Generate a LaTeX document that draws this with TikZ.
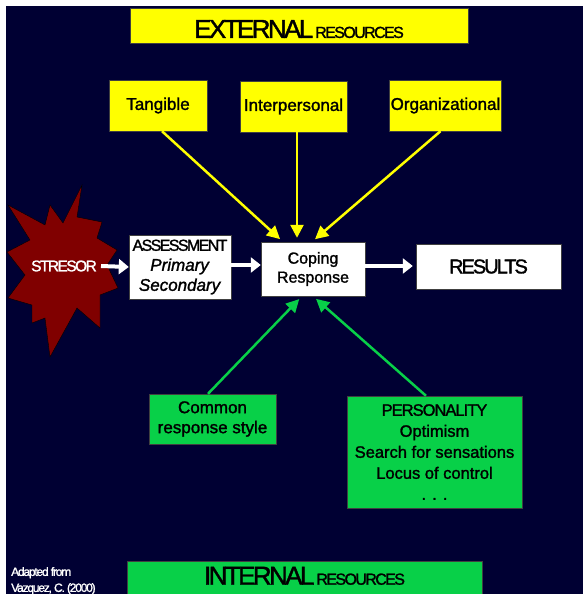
\documentclass[tikz,border=0pt]{standalone}
\usepackage{fontspec}
\setmainfont{Liberation Sans}[FakeBold=1.5]
\newfontfamily\tightfont{Liberation Sans}[LetterSpace=-10,FakeBold=1.5]
\newfontfamily\snugfont{Liberation Sans}[LetterSpace=-6,FakeBold=1.5]
\usetikzlibrary{arrows.meta}
\definecolor{navy}{RGB}{0,0,51}
\definecolor{ylw}{RGB}{255,255,0}
\definecolor{grn}{RGB}{8,208,72}
\definecolor{stressred}{RGB}{128,0,0}

\begin{document}
\begin{tikzpicture}[x=1pt,y=-1pt,
    box/.style={draw=black!75, thin, inner sep=1pt, align=center, font=\fontsize{17}{20}\selectfont},
    ybox/.style={box, fill=ylw},
    gbox/.style={box, fill=grn},
    wbox/.style={box, fill=white},
    yarrow/.style={draw=ylw, line width=2.5pt, shorten >=4pt, -{Triangle[length=13pt,width=13pt]}},
    garrow/.style={draw=grn, line width=2.5pt, shorten >=4pt, -{Triangle[length=13pt,width=13pt]}},
    warrow/.style={draw=white, line width=4pt, -{Triangle[length=10pt,width=15pt]}}]

  % background
  \useasboundingbox (0,0) rectangle (583,594);
  \fill[white] (0,0) rectangle (583,594);
  \fill[navy] (6,6) rectangle (583,594);

  % external resources
  \node[ybox, minimum width=338pt, minimum height=35pt, text height=25pt] (ext) at (299,25.5)
    {{\tightfont\fontsize{26}{26}\selectfont EXTERNAL}\hspace{2pt}{\tightfont\fontsize{16}{16}\selectfont RESOURCES}};
  \node[ybox, minimum width=98pt, minimum height=51pt] (tang) at (158,105.5) {Tangible};
  \node[ybox, minimum width=107pt, minimum height=51pt] (inter) at (293.5,106.5) {Interpersonal};
  \node[ybox, minimum width=109pt, minimum height=51pt] (org) at (445.5,105.5) {Organizational};

  % stressor
  \filldraw[fill=stressred, draw=black, thin] (82,185) -- (77,217) -- (102,222) -- (97,238)
    -- (117,250) -- (107,265) -- (118,288) -- (100,295) -- (100,328) -- (77,308)
    -- (50,357) -- (45,318) -- (32,323) -- (32,305) -- (8,298) -- (25,275)
    -- (7,252) -- (30,240) -- (8,205) -- (45,225) -- (50,205) -- (63,223) -- cycle;
  \node[text=white, inner sep=4pt, font=\tightfont\fontsize{15.5}{15.5}\selectfont] (stresor) at (64,266) {STRESOR};

  % main chain
  \node[wbox, minimum width=102pt, minimum height=64pt, font=\fontsize{17}{20}\selectfont] (assess) at (180,267)
    {{\tightfont\fontsize{16}{20}\selectfont ASSESSMENT}\\\textit{Primary}\\\textit{Secondary}};
  \node[wbox, minimum width=104pt, minimum height=54pt, font=\fontsize{16}{19}\selectfont] (coping) at (313,269)
    {Coping\\Response};
  \node[wbox, minimum width=145pt, minimum height=45pt, font=\tightfont\fontsize{20}{20}\selectfont] (results) at (488.5,266.5)
    {RESULTS};

  \draw[warrow] (stresor.east) -- (assess.west);
  \draw[warrow] (assess.east |- 0,265) -- (coping.west |- 0,265);
  \draw[warrow] (coping.east |- 0,266) -- ([xshift=-3pt]results.west |- 0,266);

  \draw[yarrow] ([xshift=4pt]tang.south) -- ([xshift=-30pt]coping.north);
  \draw[yarrow] ([xshift=3.5pt]inter.south) -- ([xshift=-16pt]coping.north);
  \draw[yarrow] ([xshift=-5pt]org.south) -- ([xshift=-1pt]coping.north);

  % internal resources
  \node[gbox, minimum width=127pt, minimum height=50pt] (common) at (212.5,419)
    {Common\\response style};
  \node[gbox, minimum width=175pt, minimum height=112pt, font=\fontsize{16.5}{21}\selectfont] (person) at (434.5,452)
    {{\snugfont PERSONALITY}\\Optimism\\Search for sensations\\Locus of control\\. . .};

  \draw[garrow] ([xshift=-4.5pt]common.north) -- ([xshift=-11pt]coping.south);
  \draw[garrow] ([xshift=-8.5pt]person.north) -- (coping.south);

  \node[gbox, minimum width=355pt, minimum height=40pt, anchor=north, text height=18pt, text depth=10pt] (intern) at (304.5,560.5)
    {{\tightfont\fontsize{26}{26}\selectfont INTERNAL}\hspace{2pt}{\tightfont\fontsize{16}{16}\selectfont RESOURCES}};

  \node[anchor=north west, align=left, text=white, inner sep=0pt, font=\tightfont\fontsize{12}{16}\selectfont] (source) at (11,567)
    {Adapted from\\Vazquez, C. (2000)};
\end{tikzpicture}
\end{document}
